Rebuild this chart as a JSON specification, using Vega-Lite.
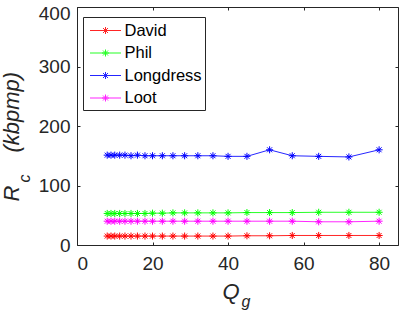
{
  "$schema": "https://vega.github.io/schema/vega-lite/v6.json",
  "width": 321,
  "height": 238,
  "autosize": {"type": "none"},
  "padding": {"left": 77, "top": 7, "right": 1, "bottom": 71},
  "background": "white",
  "datasets": {
    "rates": [
      {"name": "David", "x": 8, "y": 15}, {"name": "David", "x": 9, "y": 15}, {"name": "David", "x": 10, "y": 15}, {"name": "David", "x": 11.3, "y": 15}, {"name": "David", "x": 12.7, "y": 15}, {"name": "David", "x": 14.3, "y": 15}, {"name": "David", "x": 16, "y": 15}, {"name": "David", "x": 18, "y": 15}, {"name": "David", "x": 20, "y": 15}, {"name": "David", "x": 22.6, "y": 15}, {"name": "David", "x": 25.4, "y": 15}, {"name": "David", "x": 28.5, "y": 15}, {"name": "David", "x": 32, "y": 15}, {"name": "David", "x": 36, "y": 15}, {"name": "David", "x": 40, "y": 15}, {"name": "David", "x": 45, "y": 15.5}, {"name": "David", "x": 51, "y": 15.5}, {"name": "David", "x": 57, "y": 16}, {"name": "David", "x": 64, "y": 16}, {"name": "David", "x": 72, "y": 16}, {"name": "David", "x": 80, "y": 16},
      {"name": "Phil", "x": 8, "y": 53}, {"name": "Phil", "x": 9, "y": 53}, {"name": "Phil", "x": 10, "y": 53}, {"name": "Phil", "x": 11.3, "y": 53}, {"name": "Phil", "x": 12.7, "y": 53}, {"name": "Phil", "x": 14.3, "y": 53}, {"name": "Phil", "x": 16, "y": 53}, {"name": "Phil", "x": 18, "y": 53}, {"name": "Phil", "x": 20, "y": 53.5}, {"name": "Phil", "x": 22.6, "y": 53.5}, {"name": "Phil", "x": 25.4, "y": 54}, {"name": "Phil", "x": 28.5, "y": 54}, {"name": "Phil", "x": 32, "y": 54}, {"name": "Phil", "x": 36, "y": 54}, {"name": "Phil", "x": 40, "y": 54}, {"name": "Phil", "x": 45, "y": 54.5}, {"name": "Phil", "x": 51, "y": 54.5}, {"name": "Phil", "x": 57, "y": 54.5}, {"name": "Phil", "x": 64, "y": 55}, {"name": "Phil", "x": 72, "y": 55}, {"name": "Phil", "x": 80, "y": 55},
      {"name": "Longdress", "x": 8, "y": 151}, {"name": "Longdress", "x": 9, "y": 151}, {"name": "Longdress", "x": 10, "y": 151}, {"name": "Longdress", "x": 11.3, "y": 151}, {"name": "Longdress", "x": 12.7, "y": 151}, {"name": "Longdress", "x": 14.3, "y": 150}, {"name": "Longdress", "x": 16, "y": 151}, {"name": "Longdress", "x": 18, "y": 150}, {"name": "Longdress", "x": 20, "y": 150}, {"name": "Longdress", "x": 22.6, "y": 150}, {"name": "Longdress", "x": 25.4, "y": 150}, {"name": "Longdress", "x": 28.5, "y": 150}, {"name": "Longdress", "x": 32, "y": 150}, {"name": "Longdress", "x": 36, "y": 150}, {"name": "Longdress", "x": 40, "y": 149}, {"name": "Longdress", "x": 45, "y": 149}, {"name": "Longdress", "x": 51, "y": 160}, {"name": "Longdress", "x": 57, "y": 150}, {"name": "Longdress", "x": 64, "y": 149}, {"name": "Longdress", "x": 72, "y": 148}, {"name": "Longdress", "x": 80, "y": 160},
      {"name": "Loot", "x": 8, "y": 40}, {"name": "Loot", "x": 9, "y": 40}, {"name": "Loot", "x": 10, "y": 40}, {"name": "Loot", "x": 11.3, "y": 40}, {"name": "Loot", "x": 12.7, "y": 40}, {"name": "Loot", "x": 14.3, "y": 40}, {"name": "Loot", "x": 16, "y": 40}, {"name": "Loot", "x": 18, "y": 40}, {"name": "Loot", "x": 20, "y": 40}, {"name": "Loot", "x": 22.6, "y": 40}, {"name": "Loot", "x": 25.4, "y": 40}, {"name": "Loot", "x": 28.5, "y": 40}, {"name": "Loot", "x": 32, "y": 40}, {"name": "Loot", "x": 36, "y": 40}, {"name": "Loot", "x": 40, "y": 40}, {"name": "Loot", "x": 45, "y": 40}, {"name": "Loot", "x": 51, "y": 40}, {"name": "Loot", "x": 57, "y": 40}, {"name": "Loot", "x": 64, "y": 39}, {"name": "Loot", "x": 72, "y": 39}, {"name": "Loot", "x": 80, "y": 40}
    ]
  },
  "data": {"name": "rates"},
  "layer": [
    {
      "mark": {"type": "line", "strokeWidth": 1, "opacity": 0.85},
      "encoding": {
        "x": {
          "field": "x", "type": "quantitative",
          "scale": {"domain": [0, 85], "nice": false, "zero": false},
          "axis": {
            "orient": "bottom", "values": [0, 20, 40, 60, 80], "tickSize": -3, "labelPadding": 12,
            "title": "Q", "titleFontSize": 22, "titleAlign": "left", "titleBaseline": "alphabetic",
            "titleX": 145, "titleY": 53
          }
        },
        "y": {
          "field": "y", "type": "quantitative",
          "scale": {"domain": [0, 400], "nice": false},
          "axis": {
            "orient": "left", "values": [0, 100, 200, 300, 400], "tickSize": -3, "labelPadding": 10,
            "labelOffset": {"condition": {"test": "datum.value == 400", "value": 6}, "value": 0},
            "title": "R\u2003\u2002(kbpmp)", "titleFontSize": 22, "titleAngle": -90, "titleAlign": "left",
            "titleBaseline": "alphabetic", "titleX": -59, "titleY": 194
          }
        },
        "color": {
          "field": "name", "type": "nominal",
          "scale": {"domain": ["David", "Phil", "Longdress", "Loot"], "range": ["#ff0000", "#00ff00", "#0000ff", "#ff00ff"]},
          "legend": {
            "orient": "none", "legendX": 6, "legendY": 10, "title": null,
            "symbolType": "M-1.55,0L1.55,0M-0.35,0L0.35,0M0,-0.35L0,0.35M-0.25,-0.25L0.25,0.25M-0.25,0.25L0.25,-0.25",
            "symbolSize": 400, "symbolStrokeWidth": 1, "symbolFillColor": "transparent", "symbolOffset": 9,
            "labelFont": "Liberation Sans", "labelFontSize": 16.5, "labelColor": "#000000", "labelOffset": 8.5,
            "padding": 3, "strokeColor": "#262626", "fillColor": "white", "rowPadding": 3.5
          }
        },
        "order": {"field": "x", "type": "quantitative"}
      }
    },
    {
      "mark": {"type": "point", "filled": false, "strokeWidth": 1, "size": 50, "opacity": 1,
        "shape": "M-1,0L1,0M0,-1L0,1M-0.7,-0.7L0.7,0.7M-0.7,0.7L0.7,-0.7"},
      "encoding": {
        "x": {
          "field": "x", "type": "quantitative",
          "scale": {"domain": [0, 85], "nice": false, "zero": false},
          "axis": {
            "orient": "top", "values": [0, 20, 40, 60, 80], "tickSize": -3, "labels": false,
            "title": "g", "titleFontSize": 16, "titleAlign": "left", "titleBaseline": "alphabetic",
            "titleX": 164, "titleY": 299
          }
        },
        "y": {
          "field": "y", "type": "quantitative",
          "scale": {"domain": [0, 400], "nice": false},
          "axis": {
            "orient": "right", "values": [0, 100, 200, 300, 400], "tickSize": -3, "labels": false,
            "title": "c", "titleFontSize": 16, "titleAngle": -90, "titleAlign": "left",
            "titleBaseline": "alphabetic", "titleX": -369, "titleY": 175
          }
        },
        "color": {"field": "name", "type": "nominal"}
      }
    }
  ],
  "resolve": {"axis": {"x": "independent", "y": "independent"}},
  "config": {
    "view": {"stroke": "#262626", "strokeWidth": 1},
    "axis": {
      "grid": false, "domain": false,
      "labelFont": "Liberation Sans", "labelFontSize": 19, "labelColor": "#262626",
      "titleFont": "Liberation Sans", "titleFontStyle": "italic", "titleFontWeight": "normal", "titleColor": "#262626",
      "tickColor": "#262626", "tickWidth": 1
    }
  }
}
